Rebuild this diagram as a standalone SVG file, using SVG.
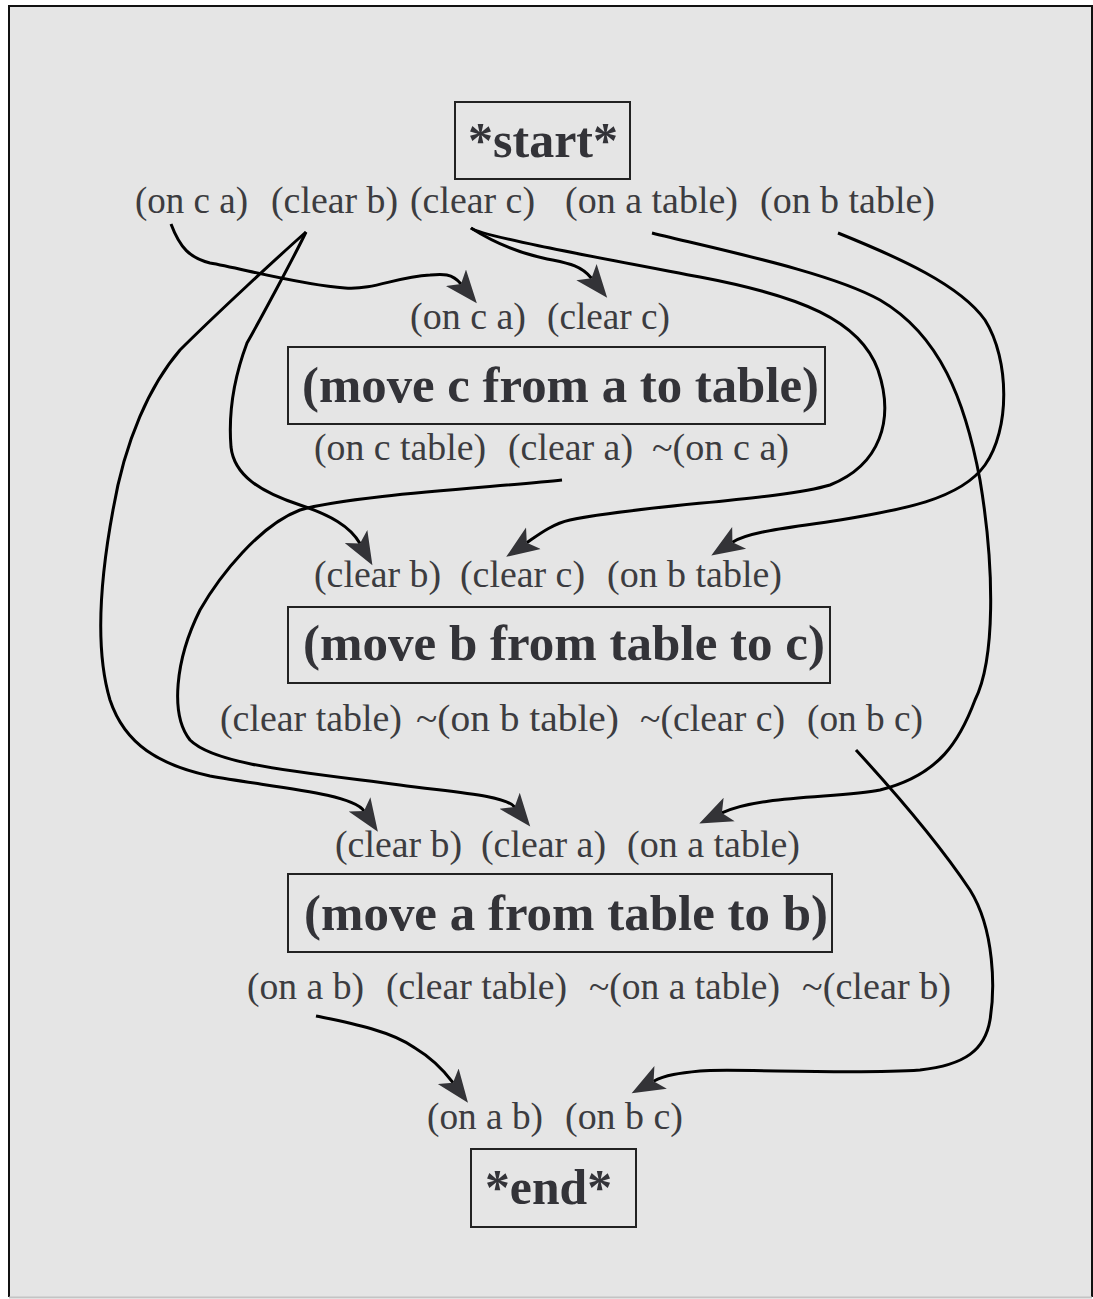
<svg xmlns="http://www.w3.org/2000/svg" width="1093" height="1299" viewBox="0 0 1093 1299">
<style>
.lbl{font-family:"Liberation Serif","Times New Roman",serif;font-size:37px;fill:#3c3c40}
.ttl{font-family:"Liberation Serif","Times New Roman",serif;font-size:50px;font-weight:bold;fill:#333338}
.box{fill:none;stroke:#222;stroke-width:2}
.edge{fill:none;stroke:#000;stroke-width:3}
</style>
<defs>
<marker id="ah" markerUnits="userSpaceOnUse" markerWidth="40" markerHeight="30" viewBox="0 -15 40 30" refX="8" refY="0" orient="auto">
<path d="M33,0 L0,-13 L8,0 L0,13 Z" fill="#333337"/>
</marker>
</defs>
<rect x="0" y="0" width="1093" height="1299" fill="#ffffff"/>
<rect x="9" y="6" width="1083" height="1291" fill="#e5e5e5"/>
<path d="M9,1297 L9,6 L1092,6 L1092,1297" fill="none" stroke="#111" stroke-width="2"/>
<line x1="9" y1="1297.5" x2="1092" y2="1297.5" stroke="#c4c4c4" stroke-width="2"/>

<g id="node-start">
<rect class="box" x="455" y="102" width="175" height="77"/>
<text class="ttl" x="468" y="157" textLength="150" lengthAdjust="spacingAndGlyphs">*start*</text>
<text class="lbl" x="135" y="213" textLength="113" lengthAdjust="spacingAndGlyphs">(on c a)</text>
<text class="lbl" x="271" y="213" textLength="127" lengthAdjust="spacingAndGlyphs">(clear b)</text>
<text class="lbl" x="410" y="213" textLength="125" lengthAdjust="spacingAndGlyphs">(clear c)</text>
<text class="lbl" x="565" y="213" textLength="173" lengthAdjust="spacingAndGlyphs">(on a table)</text>
<text class="lbl" x="760" y="213" textLength="175" lengthAdjust="spacingAndGlyphs">(on b table)</text>
</g>

<g id="node-move-c">
<text class="lbl" x="410" y="329" textLength="116" lengthAdjust="spacingAndGlyphs">(on c a)</text>
<text class="lbl" x="547" y="329" textLength="123" lengthAdjust="spacingAndGlyphs">(clear c)</text>
<rect class="box" x="288" y="347" width="537" height="77"/>
<text class="ttl" x="302" y="402" textLength="517" lengthAdjust="spacingAndGlyphs">(move c from a to table)</text>
<text class="lbl" x="314" y="460" textLength="172" lengthAdjust="spacingAndGlyphs">(on c table)</text>
<text class="lbl" x="508" y="460" textLength="125" lengthAdjust="spacingAndGlyphs">(clear a)</text>
<text class="lbl" x="652" y="460" textLength="137" lengthAdjust="spacingAndGlyphs">~(on c a)</text>
</g>

<g id="node-move-b">
<text class="lbl" x="314" y="587" textLength="127" lengthAdjust="spacingAndGlyphs">(clear b)</text>
<text class="lbl" x="460" y="587" textLength="125" lengthAdjust="spacingAndGlyphs">(clear c)</text>
<text class="lbl" x="607" y="587" textLength="175" lengthAdjust="spacingAndGlyphs">(on b table)</text>
<rect class="box" x="288" y="607" width="542" height="76"/>
<text class="ttl" x="303" y="660" textLength="522" lengthAdjust="spacingAndGlyphs">(move b from table to c)</text>
<text class="lbl" x="220" y="731" textLength="182" lengthAdjust="spacingAndGlyphs">(clear table)</text>
<text class="lbl" x="416" y="731" textLength="203" lengthAdjust="spacingAndGlyphs">~(on b table)</text>
<text class="lbl" x="640" y="731" textLength="145" lengthAdjust="spacingAndGlyphs">~(clear c)</text>
<text class="lbl" x="807" y="731" textLength="116" lengthAdjust="spacingAndGlyphs">(on b c)</text>
</g>

<g id="node-move-a">
<text class="lbl" x="335" y="857" textLength="127" lengthAdjust="spacingAndGlyphs">(clear b)</text>
<text class="lbl" x="481" y="857" textLength="125" lengthAdjust="spacingAndGlyphs">(clear a)</text>
<text class="lbl" x="627" y="857" textLength="173" lengthAdjust="spacingAndGlyphs">(on a table)</text>
<rect class="box" x="288" y="874" width="544" height="78"/>
<text class="ttl" x="304" y="930" textLength="524" lengthAdjust="spacingAndGlyphs">(move a from table to b)</text>
<text class="lbl" x="247" y="999" textLength="117" lengthAdjust="spacingAndGlyphs">(on a b)</text>
<text class="lbl" x="386" y="999" textLength="181" lengthAdjust="spacingAndGlyphs">(clear table)</text>
<text class="lbl" x="589" y="999" textLength="191" lengthAdjust="spacingAndGlyphs">~(on a table)</text>
<text class="lbl" x="802" y="999" textLength="149" lengthAdjust="spacingAndGlyphs">~(clear b)</text>
</g>

<g id="node-end">
<text class="lbl" x="427" y="1129" textLength="116" lengthAdjust="spacingAndGlyphs">(on a b)</text>
<text class="lbl" x="565" y="1129" textLength="118" lengthAdjust="spacingAndGlyphs">(on b c)</text>
<rect class="box" x="471" y="1149" width="165" height="78"/>
<text class="ttl" x="485" y="1204" textLength="127" lengthAdjust="spacingAndGlyphs">*end*</text>
</g>

<g id="connectors">
<path class="edge" marker-end="url(#ah)" d="M171,224 C180,248 190,258 210,263 C240,268 300,285 345,288 C375,290 395,277 430,275 C442,274 452,273 461,284"/>
<path class="edge" marker-end="url(#ah)" d="M306,232 C280,255 215,315 180,350 C150,385 125,440 113,510 C100,580 95,650 110,700 C125,745 160,765 210,776 C270,787 352,793 364,811"/>
<path class="edge" marker-end="url(#ah)" d="M306,232 C295,255 260,320 247,343 C235,375 228,410 231,447 C234,475 260,492 300,505 C330,515 350,526 360,543.5"/>
<path class="edge" marker-end="url(#ah)" d="M471,228 C490,240 515,252 543,258 C565,263 580,264 591.5,278.3"/>
<path class="edge" marker-end="url(#ah)" d="M471,228 C480,236 600,258 700,277 C800,296 860,320 878,370 C895,420 880,465 830,485 C780,500 640,505 570,520 C552,524 538,535 526.8,542.7"/>
<path class="edge" marker-end="url(#ah)" d="M652,233 C720,250 830,272 880,300 C940,335 965,400 980,480 C995,570 995,660 975,700 C960,740 940,775 880,790 C840,798 760,795 721.9,812.9"/>
<path class="edge" marker-end="url(#ah)" d="M838,233 C900,258 960,285 985,320 C1010,360 1010,430 985,465 C960,500 900,510 840,520 C790,528 750,531 732.4,542.2"/>
<path class="edge" marker-end="url(#ah)" d="M562,480 C500,487 350,495 300,510 C260,525 220,575 200,610 C175,660 170,715 190,740 C215,765 300,772 400,785 C450,792 505,795 514.6,807"/>
<path class="edge" marker-end="url(#ah)" d="M856,750 C890,787 940,845 970,890 C995,930 995,990 990,1020 C985,1050 965,1065 920,1070 C850,1075 730,1068 700,1071 C680,1073 665,1075 653.6,1081.2"/>
<path class="edge" marker-end="url(#ah)" d="M316,1016 C345,1022 390,1030 415,1048 C435,1060 445,1072 453,1082.7"/>
</g>
</svg>
